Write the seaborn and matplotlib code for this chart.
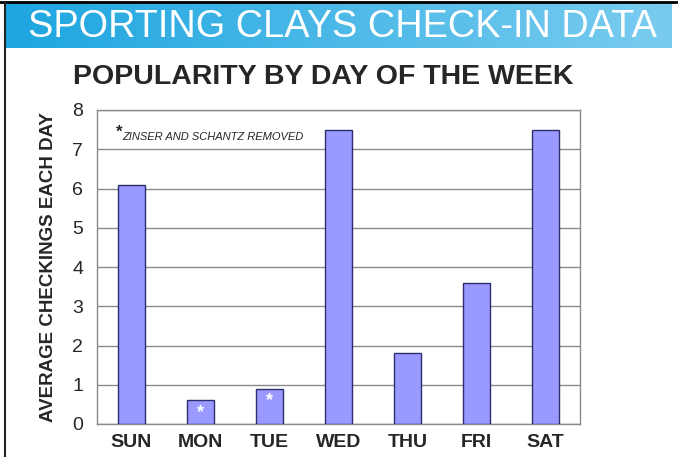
import numpy as np
import pandas as pd
import matplotlib
matplotlib.use("Agg")
import matplotlib.pyplot as plt
import seaborn as sns

# données
days = ["SUN", "MON", "TUE", "WED", "THU", "FRI", "SAT"]
avg_checkins = [6.1, 0.6, 0.9, 7.5, 1.8, 3.6, 7.5]
starred_days = ["MON", "TUE"]
y_ticks = [0, 1, 2, 3, 4, 5, 6, 7, 8]

banner_text = "SPORTING CLAYS CHECK-IN DATA"
title_text = "POPULARITY BY DAY OF THE WEEK"
y_label = "AVERAGE CHECKINGS EACH DAY"
note_text = "ZINSER AND SCHANTZ REMOVED"

sns.set_style("white")
plt.rcParams["font.family"] = ["Liberation Sans", "DejaVu Sans"]

df = pd.DataFrame({"day": days, "value": avg_checkins})

fig = plt.figure(figsize=(6.78, 4.57), dpi=100)
W, H = 678, 457


def px_box(x0, y0, x1, y1):
    return [x0 / W, 1 - y1 / H, (x1 - x0) / W, (y1 - y0) / H]


# =========================
# bandeau bleu
# =========================
ax_b = fig.add_axes(px_box(6, 3, 672, 48))
grad = np.linspace(0, 1, 256).reshape(1, -1)
cmap = matplotlib.colors.LinearSegmentedColormap.from_list("b", ["#1EA6E0", "#7ACCEF"])
ax_b.imshow(grad, aspect="auto", cmap=cmap, extent=[0, 1, 0, 1])
ax_b.set_axis_off()
ax_b.text(0.505, 0.47, banner_text, color="white", fontsize=27.3,
          ha="center", va="center", transform=ax_b.transAxes)

# bordures noires
fig.add_artist(plt.Line2D([0, 1], [1 - 2 / H, 1 - 2 / H], color="black", lw=2))
fig.add_artist(plt.Line2D([5 / W, 5 / W], [0, 1 - 2 / H], color="#222222", lw=1.5))

# =========================
# graphique
# =========================
ax = fig.add_axes(px_box(97, 110, 580, 424))
sns.barplot(data=df, x="day", y="value", color="#9999FF", saturation=1,
            edgecolor="#2E2E6E", linewidth=1, width=0.4, ax=ax, zorder=3)

ax.set_ylim(0, 8)
ax.set_xlim(-0.5, len(days) - 0.5)
ax.set_yticks(y_ticks)
ax.yaxis.grid(True, color="#8A8A8A", lw=1, zorder=0)
ax.set_axisbelow(True)
for s in ax.spines.values():
    s.set_color("#8A8A8A")
    s.set_linewidth(1)

ax.set_xticks(range(len(days)))
ax.set_xticklabels(days, fontsize=14, fontweight="bold")
ax.set_xticks(np.arange(-0.5, len(days), 1), minor=True)
ax.tick_params(axis="x", which="major", length=0, pad=7)
ax.tick_params(axis="x", which="minor", length=4, color="#8A8A8A", direction="out")
ax.tick_params(axis="y", length=4, color="#8A8A8A", direction="out",
               labelsize=14, pad=6)
ax.set_xlabel("")
ax.set_ylabel(y_label, fontsize=13.5, fontweight="bold", labelpad=11)

fig.text(323 / W, 1 - 77 / H, title_text, fontsize=20.5, fontweight="bold",
         ha="center", va="center")

# note
ax.text(0.04, 0.93, "*", fontsize=12, fontweight="bold", transform=ax.transAxes, va="center")
ax.text(0.053, 0.915, note_text, fontsize=8, style="italic",
        transform=ax.transAxes, va="center")

# astérisques blancs
for d in starred_days:
    i = days.index(d)
    ax.text(i, avg_checkins[i] - 0.3, "*", color="white", fontsize=13,
            fontweight="bold", ha="center", va="center", zorder=4)

fig.savefig("out.png", dpi=100, facecolor="white")
